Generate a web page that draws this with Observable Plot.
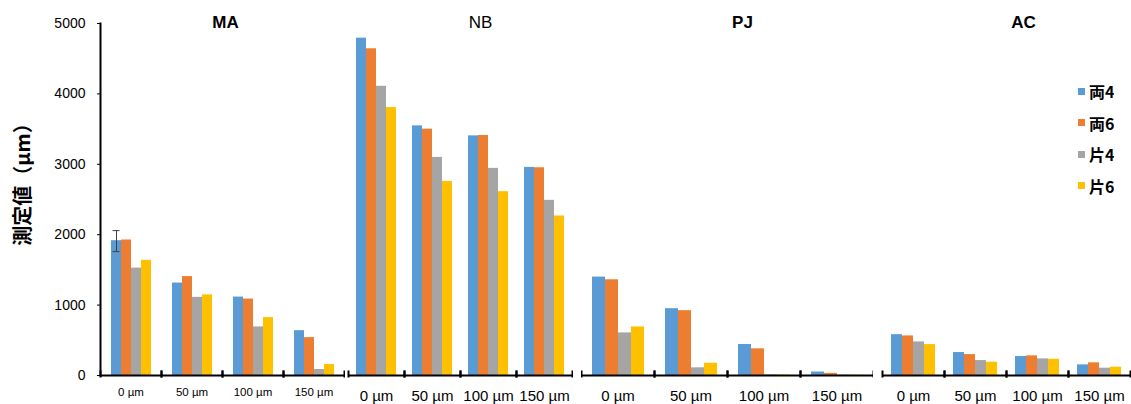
<!DOCTYPE html>
<html><head><meta charset="utf-8">
<script src="https://cdn.jsdelivr.net/npm/d3@7"></script>
<script src="https://cdn.jsdelivr.net/npm/@observablehq/plot@0.6"></script>
<style>
body{margin:0;background:#fff;}
#chart{position:relative;width:1131px;height:404px;font-family:"Liberation Sans",Arial,sans-serif;}
#chart > *{position:absolute;top:0;}
#legend{left:1078px;top:76px;}
#legend .lg-swatch{height:30.5px;display:flex;align-items:center;font:bold 16px "Noto Sans CJK JP","Liberation Sans",sans-serif;color:#000;margin:0;}
#legend .lg-swatch svg{margin-right:4px;}
</style></head><body><div id="chart"></div>
<script>
const groups = ["MA","NB","PJ","AC"];
const distances = ["0 µm","50 µm","100 µm","150 µm"];
const series = ["両4","両6","片4","片6"];
const colors = ["#5B9BD5","#ED7D31","#A5A5A5","#FFC000"];
const valuesMA = [[1915,1925,1525,1635],[1313,1405,1110,1145],[1114,1086,690,822],[637,538,85,156]];
const valuesNB = [[4792,4641,4108,3806],[3546,3499,3098,2757],[3404,3409,2942,2611],[2956,2951,2488,2266]];
const valuesPJ = [[1398,1360,605,690],[949,921,109,174],[440,379,10,6],[50,30,6,5]];
const valuesAC = [[580,562,477,439],[326,297,212,189],[269,279,236,231],[151,180,104,118]];
const yTicks = [0,1000,2000,3000,4000,5000];
const yLabel = "測定値（µm）";
const errorMA = [{dist:"0 µm", series:"両4", low:1760, high:2058}];

const layout = {
  MA: {left:0, width:345, marginLeft:99, fs:11.5, pad:12, bold:"bold", tdx:3},
  NB: {left:347, width:226, marginLeft:0, fs:15, pad:15, bold:"normal", tdx:20},
  PJ: {left:581, width:292, marginLeft:0, fs:15, pad:15, bold:"bold", tdx:15},
  AC: {left:880, width:251, marginLeft:0, fs:15, pad:15, bold:"bold", tdx:17}
};
const allValues = {MA: valuesMA, NB: valuesNB, PJ: valuesPJ, AC: valuesAC};
const chart = document.getElementById("chart");

for (const g of groups) {
  const L = layout[g];
  const data = [];
  distances.forEach((d, i) => series.forEach((s, j) => data.push({dist: d, series: s, value: allValues[g][i][j]})));
  const marks = [
    Plot.barY(data, {fx: "dist", x: "series", y: "value", fill: "series"}),
    Plot.ruleY([0], {stroke: "#000", strokeWidth: 2}),
    Plot.frame({anchor: "left", insetTop: 348, insetBottom: -1, stroke: "#000", strokeWidth: 2}),
    Plot.frame({anchor: "right", insetTop: 348, insetBottom: -1, stroke: "#000", strokeWidth: 2}),
    Plot.axisFx({anchor: "bottom", tickSize: 0, tickPadding: L.pad, fontSize: L.fs, label: null}),
    Plot.text([g], {fx: [distances[2]], frameAnchor: "top-left", textAnchor: "middle", lineAnchor: "middle", dx: L.tdx, dy: -1, fontSize: 17, fontWeight: L.bold, fill: "#000"})
  ];
  if (g === "MA") {
    marks.push(
      Plot.frame({anchor: "left", facetAnchor: "left", stroke: "#000", strokeWidth: 2}),
      Plot.axisY({ticks: yTicks, tickSize: 3, tickPadding: 12, fontSize: 14, tickFormat: d => String(d), label: null}),
      Plot.text([yLabel], {frameAnchor: "left", facetAnchor: "left", rotate: -90, textAnchor: "middle", lineAnchor: "middle", dx: -77, dy: -20, fontSize: 20, fontWeight: "bold", fontFamily: "Noto Sans CJK JP", fill: "#000"}),
      Plot.ruleX(errorMA, {fx: "dist", x: "series", y1: "low", y2: "high", stroke: "#404040", strokeWidth: 1}),
      Plot.tickY(errorMA, {fx: "dist", x: "series", y: "low", stroke: "#404040", strokeWidth: 1, insetLeft: 1.5, insetRight: 1.5}),
      Plot.tickY(errorMA, {fx: "dist", x: "series", y: "high", stroke: "#404040", strokeWidth: 1, insetLeft: 1.5, insetRight: 1.5})
    );
  }
  const svg = Plot.plot({
    width: L.width, height: 404,
    marginLeft: L.marginLeft, marginRight: 0, marginTop: 23, marginBottom: 29,
    style: {fontFamily: "Liberation Sans, Arial, sans-serif", background: "transparent", color: "#000"},
    fx: {domain: distances, padding: 0, label: null, axis: null},
    x: {domain: series, paddingInner: 0, paddingOuter: 0.78, axis: null},
    y: {domain: [0, 5000], axis: null},
    color: {domain: series, range: colors},
    marks
  });
  svg.style.left = L.left + "px";
  chart.appendChild(svg);
}

const legend = Plot.legend({color: {domain: series, range: colors}, columns: 1, swatchSize: 7, className: "lg"});
legend.id = "legend";
chart.appendChild(legend);
</script></body></html>
